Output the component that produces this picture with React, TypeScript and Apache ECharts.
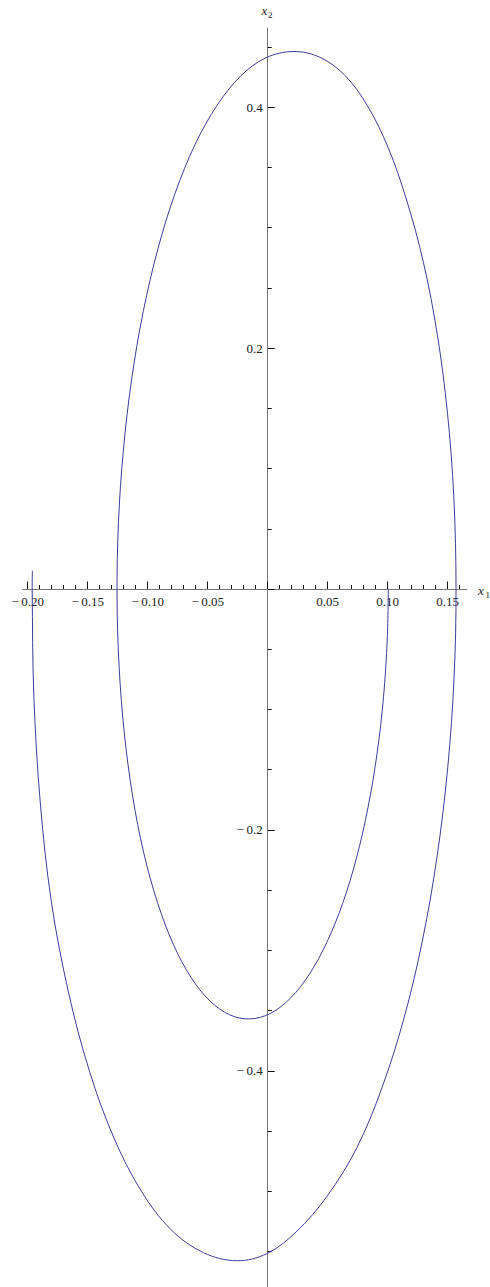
import React, { useEffect, useRef } from "react";
import * as echarts from "echarts";

// Trajectory (x1, x2), in drawing order
const trajX1 = [
  0.1005, 0.0996, 0.0965, 0.0911, 0.0835, 0.0739, 0.0624, 0.0491, 0.0345, 0.0188, 0.0023,
  -0.0146, -0.0315, -0.0481, -0.0639, -0.0786, -0.0918, -0.1033, -0.1126, -0.1195, -0.1239,
  -0.1256, -0.1244, -0.1203, -0.1134, -0.1038, -0.0916, -0.0771, -0.0605, -0.0421, -0.0225,
  -0.0017, 0.0214, 0.0435, 0.0642, 0.0829, 0.1002, 0.1157, 0.1298, 0.1413, 0.1498, 0.1551,
  0.1569, 0.1553, 0.15, 0.1412, 0.129, 0.1136, 0.0952, 0.0743, 0.0495, 0.0238, -0.0007,
  -0.0257, -0.0536, -0.0809, -0.1055, -0.1282, -0.1486, -0.1661, -0.1803, -0.1895, -0.1949,
  -0.1963, -0.1961,
];
const trajX2 = [
  0.0, -0.0414, -0.0895, -0.1366, -0.1816, -0.2234, -0.261, -0.2935, -0.32, -0.3397, -0.3522,
  -0.3568, -0.3535, -0.342, -0.3224, -0.2951, -0.2604, -0.2191, -0.1718, -0.1197, -0.0636,
  -0.005, 0.0551, 0.1152, 0.1741, 0.23, 0.282, 0.3287, 0.369, 0.4016, 0.4258, 0.4408, 0.4461,
  0.4413, 0.4264, 0.4014, 0.3667, 0.3229, 0.2707, 0.2113, 0.1458, 0.0755, 0.0, -0.0731,
  -0.1481, -0.2214, -0.2913, -0.356, -0.4139, -0.4636, -0.5039, -0.5335, -0.5516, -0.5575,
  -0.5508, -0.5314, -0.4995, -0.4555, -0.4001, -0.3344, -0.2597, -0.1778, -0.0893, 0.0,
  0.0152,
];

// Axis ticks and labels
const xMajorTicks = [-0.2, -0.15, -0.1, -0.05, 0, 0.05, 0.1, 0.15];
const xLabels = [-0.2, -0.15, -0.1, -0.05, 0.05, 0.1, 0.15];
const xMinorTicks = [
  -0.19, -0.18, -0.17, -0.16, -0.14, -0.13, -0.12, -0.11, -0.09, -0.08, -0.07, -0.06,
  -0.04, -0.03, -0.02, -0.01, 0.01, 0.02, 0.03, 0.04, 0.06, 0.07, 0.08, 0.09, 0.11, 0.12,
  0.13, 0.14, 0.16,
];
const yMajorTicks = [-0.4, -0.2, 0, 0.2, 0.4];
const yLabels = [-0.4, -0.2, 0.2, 0.4];
const yMinorTicks = [
  -0.55, -0.5, -0.45, -0.35, -0.3, -0.25, -0.15, -0.1, -0.05, 0.05, 0.1, 0.15, 0.25, 0.3,
  0.35, 0.45,
];

const X_MIN = -0.2042;
const X_MAX = 0.1658;
const Y_MIN = -0.5793;
const Y_MAX = 0.4656;

const W = 490;
const H = 1287;
const G_LEFT = 22.7;
const G_RIGHT = 23.3;
const G_TOP = 28;
const G_BOTTOM = 0;

const FONT = "'Liberation Serif', 'DejaVu Serif', serif";
const CURVE = "#3d3d99";

const fmt = (d: number) => (v: number) => {
  const s = Math.abs(v).toFixed(d);
  return v < 0 ? "\u2212\u2009" + s : s;
};

export default function App() {
  const ref = useRef<HTMLDivElement>(null);
  useEffect(() => {
    if (!ref.current) return;
    const chart = echarts.init(ref.current, undefined, { renderer: "svg" });
    const data = trajX1.map((x, i) => [x, trajX2[i]]);

    // place axes through the origin using offsets from the grid edges
    const gw = W - G_LEFT - G_RIGHT;
    const gh = H - G_TOP - G_BOTTOM;
    const zeroXpx = G_LEFT + ((0 - X_MIN) / (X_MAX - X_MIN)) * gw;
    const zeroYpx = G_TOP + ((Y_MAX - 0) / (Y_MAX - Y_MIN)) * gh;
    const xOffset = -(H - G_BOTTOM - zeroYpx);
    const yOffset = -(zeroXpx - G_LEFT);

    const baseX = {
      type: "value",
      min: X_MIN,
      max: X_MAX,
      position: "bottom",
      offset: xOffset,
      splitLine: { show: false },
    };
    const baseY = {
      type: "value",
      min: Y_MIN,
      max: Y_MAX,
      position: "left",
      offset: yOffset,
      splitLine: { show: false },
    };
    chart.setOption({
      animation: false,
      grid: {
        left: G_LEFT,
        right: G_RIGHT,
        top: G_TOP,
        bottom: G_BOTTOM,
        containLabel: false,
        outerBoundsMode: "none",
      },
      xAxis: [
        {
          ...baseX,
          axisLine: { show: true, onZero: false, lineStyle: { color: "#777", width: 1 } },
          axisTick: { show: true, inside: true, length: 7.5, customValues: xMajorTicks, lineStyle: { color: "#111", width: 1 } },
          axisLabel: {
            show: true,
            customValues: xLabels,
            formatter: fmt(2),
            fontFamily: FONT,
            fontSize: 13,
            color: "#222",
            margin: 6,
          },
        },
        {
          ...baseX,
          axisLine: { show: false, onZero: false },
          axisTick: { show: true, inside: true, length: 4, customValues: xMinorTicks, lineStyle: { color: "#111", width: 1 } },
          axisLabel: { show: false },
        },
      ],
      yAxis: [
        {
          ...baseY,
          axisLine: { show: true, onZero: false, lineStyle: { color: "#777", width: 1 } },
          axisTick: { show: true, inside: true, length: 7, customValues: yMajorTicks, lineStyle: { color: "#111", width: 1 } },
          axisLabel: {
            show: true,
            customValues: yLabels,
            formatter: fmt(1),
            fontFamily: FONT,
            fontSize: 13,
            color: "#222",
            margin: 5,
          },
        },
        {
          ...baseY,
          axisLine: { show: false, onZero: false },
          axisTick: { show: true, inside: true, length: 4, customValues: yMinorTicks, lineStyle: { color: "#111", width: 1 } },
          axisLabel: { show: false },
        },
      ],
      series: [
        {
          type: "custom",
          coordinateSystem: "cartesian2d",
          xAxisIndex: 0,
          yAxisIndex: 0,
          data,
          encode: { x: 0, y: 1 },
          silent: true,
          renderItem: (params: any, api: any) => {
            if (params.dataIndex !== 0) return null;
            const points = data.map((p) => api.coord(p));
            return {
              type: "polyline",
              shape: { points, smooth: 0.35 },
              style: { stroke: CURVE, lineWidth: 1, fill: "none" },
            };
          },
        },
      ],
      graphic: [
        { type: "text", x: 478, y: 590, style: { text: "x", font: `italic 13px ${FONT}`, fill: "#222", verticalAlign: "middle", align: "left" } },
        { type: "text", x: 485.5, y: 595, style: { text: "1", font: `9px ${FONT}`, fill: "#222", verticalAlign: "middle", align: "left" } },
        { type: "text", x: 261.5, y: 10, style: { text: "x", font: `italic 13px ${FONT}`, fill: "#222", verticalAlign: "middle", align: "left" } },
        { type: "text", x: 268, y: 14.5, style: { text: "2", font: `9px ${FONT}`, fill: "#222", verticalAlign: "middle", align: "left" } },
      ],
    });
    return () => chart.dispose();
  }, []);
  return (
    <div
      ref={ref}
      style={{ position: "absolute", left: 0, top: 0, width: W, height: H, background: "#fff" }}
    />
  );
}
